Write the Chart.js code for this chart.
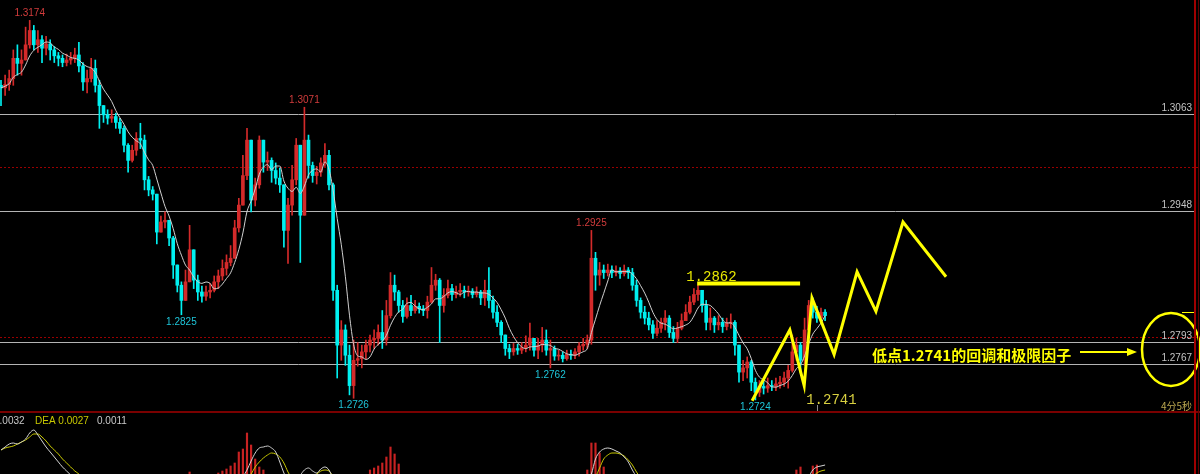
<!DOCTYPE html>
<html>
<head>
<meta charset="utf-8">
<script src="https://cdn.jsdelivr.net/npm/chart.js@4.4.0/dist/chart.umd.min.js"></script>
<style>
  html, body { margin: 0; padding: 0; background: #000; overflow: hidden; }
  #wrap { position: relative; width: 1200px; height: 474px; background: #000; }
  #main { position: absolute; left: 0; top: 0; }
  #macd { position: absolute; left: 0; top: 413px; }
  .sep { position: absolute; left: 0; top: 411px; width: 1200px; height: 2px; background: #7a0000; }
  .vline { position: absolute; top: 0; left: 1194px; width: 2px; height: 474px; background: #a00000; }
  .vline2 { position: absolute; top: 0; left: 1198px; width: 1px; height: 474px; background: #600000; }
</style>
</head>
<body>
<div id="wrap">
  <canvas id="main" width="1200" height="412"></canvas>
  <div class="sep"></div>
  <canvas id="macd" width="1200" height="61"></canvas>
  <div class="vline"></div>
  <div class="vline2"></div>
</div>
<script>
// price data, one candle per entry (open = previous close)
const firstOpen = 1.3097;
const closes = [
  1.3094,1.3098,1.3105,1.3129,1.3123,1.3127,1.3145,1.3162,1.3145,1.3151,
  1.3141,1.3146,1.3139,1.3132,1.3129,1.3124,1.3127,1.3129,1.3133,1.3120,
  1.3101,1.3105,1.3117,1.3097,1.3073,1.3062,1.3058,1.3060,1.3053,1.3046,
  1.3026,1.3008,1.3020,1.3034,1.3032,1.2985,1.2973,1.2968,1.2923,1.2935,
  1.2937,1.2916,1.2884,1.2860,1.2842,1.2864,1.2902,1.2866,1.2852,1.2847,
  1.2852,1.2854,1.2864,1.2871,1.2880,1.2887,1.2892,1.2928,1.2955,1.2990,
  1.3032,1.2961,1.2979,1.3032,1.3006,1.3008,1.2996,1.2987,1.2979,1.2925,
  1.2955,1.2985,1.3026,1.2943,1.3032,1.3002,1.2990,1.2994,1.3005,1.3014,
  1.2979,1.2854,1.2789,1.2807,1.2777,1.2741,1.2771,1.2773,1.2781,1.2789,
  1.2795,1.2797,1.2804,1.2795,1.2824,1.2860,1.2852,1.2836,1.2823,1.2836,
  1.2830,1.2835,1.2832,1.2830,1.2840,1.2860,1.2866,1.2836,1.2848,1.2856,
  1.2849,1.2852,1.2854,1.2852,1.2853,1.2849,1.2852,1.2845,1.2854,1.2842,
  1.2828,1.2816,1.2801,1.2785,1.2781,1.2785,1.2783,1.2786,1.2789,1.2797,
  1.2783,1.2789,1.2795,1.2783,1.2785,1.2776,1.2777,1.2773,1.2778,1.2777,
  1.2781,1.2788,1.2790,1.2795,1.2892,1.2872,1.2878,1.2875,1.2878,1.2875,
  1.2877,1.2874,1.2878,1.2875,1.2860,1.2842,1.2828,1.2821,1.2813,1.2803,
  1.2809,1.2816,1.2821,1.2804,1.2797,1.2809,1.2818,1.2828,1.2840,1.2849,
  1.2854,1.2836,1.2816,1.2821,1.2813,1.2816,1.2811,1.2815,1.2816,1.2789,
  1.2757,1.2762,1.2769,1.2745,1.2733,1.2740,1.2738,1.2741,1.2740,1.2743,
  1.2745,1.2750,1.2759,1.2781,1.2789,1.2771,1.2807,1.2836,1.2828,1.2821,
  1.2828,1.2824
];
const highs = [
  1.3103,1.3109,1.3115,1.3139,1.3145,1.3139,1.3166,1.3174,1.3168,1.3162,
  1.3156,1.3155,1.3151,1.3143,1.3136,1.3133,1.3134,1.3136,1.3141,1.3148,
  1.3124,1.3115,1.3129,1.3127,1.3103,1.3070,1.3068,1.3068,1.3064,1.3058,
  1.3049,1.3028,1.3026,1.3041,1.3052,1.3038,1.2989,1.2977,1.2937,1.2942,
  1.2947,1.2937,1.2918,1.2878,1.2864,1.2878,1.2931,1.2896,1.2872,1.2859,
  1.2859,1.2862,1.2871,1.2878,1.2890,1.2896,1.2907,1.2937,1.2963,1.3014,
  1.3046,1.3032,1.2987,1.3037,1.3032,1.3018,1.3011,1.3005,1.2999,1.2979,
  1.2963,1.3002,1.3034,1.3020,1.3071,1.3038,1.3006,1.3001,1.3011,1.3028,
  1.3020,1.2981,1.2860,1.2818,1.2813,1.2789,1.2795,1.2792,1.2789,1.2795,
  1.2801,1.2807,1.2813,1.2830,1.2842,1.2875,1.2872,1.2854,1.2842,1.2845,
  1.2848,1.2842,1.2839,1.2836,1.2847,1.2881,1.2873,1.2868,1.2856,1.2866,
  1.2861,1.2859,1.2862,1.2859,1.2859,1.2856,1.2858,1.2854,1.2866,1.2881,
  1.2847,1.2836,1.2818,1.2801,1.2790,1.2791,1.2790,1.2792,1.2800,1.2815,
  1.2797,1.2797,1.2810,1.2807,1.2795,1.2788,1.2783,1.2781,1.2783,1.2783,
  1.2785,1.2792,1.2797,1.2801,1.2925,1.2899,1.2887,1.2884,1.2885,1.2883,
  1.2883,1.2881,1.2884,1.2881,1.2880,1.2866,1.2845,1.2835,1.2828,1.2818,
  1.2818,1.2821,1.2830,1.2824,1.2811,1.2816,1.2826,1.2837,1.2847,1.2856,
  1.2860,1.2854,1.2842,1.2833,1.2823,1.2824,1.2821,1.2821,1.2826,1.2818,
  1.2789,1.2771,1.2775,1.2771,1.2750,1.2747,1.2747,1.2750,1.2747,1.2750,
  1.2752,1.2757,1.2765,1.2801,1.2797,1.2792,1.2821,1.2842,1.2845,1.2835,
  1.2833,1.2831
];
const lows = [
  1.3073,1.3085,1.3091,1.3097,1.3109,1.3109,1.3127,1.3141,1.3139,1.3136,
  1.3124,1.3133,1.3127,1.3124,1.3120,1.3119,1.3120,1.3122,1.3124,1.3113,
  1.3091,1.3088,1.3101,1.3089,1.3046,1.3053,1.3051,1.3053,1.3046,1.3040,
  1.3018,1.2994,1.3006,1.3014,1.3022,1.2973,1.2966,1.2961,1.2909,1.2925,
  1.2928,1.2907,1.2868,1.2852,1.2825,1.2842,1.2880,1.2856,1.2842,1.2840,
  1.2842,1.2845,1.2852,1.2856,1.2866,1.2872,1.2883,1.2902,1.2923,1.2955,
  1.2985,1.2947,1.2954,1.2975,1.2994,1.2996,1.2982,1.2980,1.2970,1.2905,
  1.2886,1.2943,1.2979,1.2887,1.2943,1.2987,1.2982,1.2980,1.2989,1.3001,
  1.2973,1.2842,1.2750,1.2771,1.2765,1.2730,1.2726,1.2764,1.2762,1.2773,
  1.2781,1.2785,1.2789,1.2785,1.2789,1.2821,1.2842,1.2828,1.2816,1.2821,
  1.2824,1.2827,1.2827,1.2824,1.2821,1.2839,1.2854,1.2792,1.2828,1.2845,
  1.2842,1.2845,1.2847,1.2845,1.2847,1.2845,1.2846,1.2837,1.2836,1.2833,
  1.2821,1.2811,1.2792,1.2777,1.2773,1.2777,1.2778,1.2779,1.2781,1.2783,
  1.2776,1.2773,1.2781,1.2777,1.2762,1.2771,1.2771,1.2769,1.2771,1.2772,
  1.2773,1.2776,1.2783,1.2785,1.2790,1.2854,1.2860,1.2868,1.2871,1.2869,
  1.2871,1.2868,1.2871,1.2868,1.2854,1.2835,1.2821,1.2814,1.2807,1.2797,
  1.2800,1.2804,1.2807,1.2798,1.2792,1.2792,1.2807,1.2818,1.2826,1.2837,
  1.2842,1.2828,1.2807,1.2807,1.2804,1.2807,1.2804,1.2807,1.2809,1.2777,
  1.2745,1.2747,1.2750,1.2735,1.2724,1.2728,1.2731,1.2733,1.2735,1.2735,
  1.2738,1.2740,1.2738,1.2757,1.2771,1.2756,1.2765,1.2807,1.2821,1.2816,
  1.2818,1.2818
];

// horizontal levels and marked extremes
const levels = [1.3063, 1.2948, 1.2793, 1.2767];
const dotLevels = [1.3000, 1.2799];
const peakIdx = [7, 74, 144];
const troughIdx = [44, 86, 134, 184];

// hand drawn projection
const zigIdx = [183.2, 192.4, 195.9, 197.8, 203.2, 208.8, 213.4, 220.0, 230.5];
const zigPrice = [1.2723, 1.2807, 1.2741, 1.2845, 1.2778, 1.2876, 1.2829, 1.2935, 1.2870];
const resistIdx = [169.8, 194.9];
const resistPrice = 1.2862;
const noteLow = 1.2741;

// MACD panel (only the visible top part)
const difSegs = [
  [[0,.0047],[1,.0050],[2,.0053],[3,.0054],[4,.0053],[5,.0055],[6,.0058],[7,.0064],[8,.0067],[9,.0062],[10,.0056],[11,.0050],[12,.0045],[13,.0040],[14,.0035],[15,.0030],[16,.0026],[17,.0022],[18,.0018]],
  [[59,.0020],[60,.0027],[61,.0036],[62,.0044],[63,.0049],[64,.0050],[65,.0051],[66,.0049],[67,.0045],[68,.0035],[69,.0024],[70,.0016]],
  [[72,.0018],[73,.0022],[74,.0027],[75,.0029],[76,.0026],[77,.0024],[78,.0028],[79,.0030],[80,.0027],[81,.0018]],
  [[143,.0015],[144,.0023],[145,.0038],[146,.0045],[147,.0048],[148,.0049],[149,.0048],[150,.0046],[151,.0044],[152,.0040],[153,.0035],[154,.0027],[155,.0020]],
  [[196,.0012],[197,.0020],[198,.0027],[199,.0030],[200,.0031],[201,.0032]]
];
const deaSegs = [
  [[0,.0047],[1,.0049],[2,.0050],[3,.0051],[4,.0053],[5,.0055],[6,.0057],[7,.0060],[8,.0063],[9,.0063],[10,.0060],[11,.0056],[12,.0051],[13,.0047],[14,.0043],[15,.0038],[16,.0034],[17,.0030],[18,.0026],[19,.0023],[20,.0019]],
  [[59,.0013],[60,.0018],[61,.0023],[62,.0030],[63,.0035],[64,.0039],[65,.0042],[66,.0044],[67,.0043],[68,.0040],[69,.0034],[70,.0025],[71,.0018]],
  [[75,.0019],[76,.0021],[77,.0023],[78,.0026],[79,.0027],[80,.0026],[81,.0021]],
  [[144,.0013],[145,.0020],[146,.0029],[147,.0038],[148,.0042],[149,.0044],[150,.0044],[151,.0043],[152,.0041],[153,.0037],[154,.0032],[155,.0025],[156,.0019]],
  [[197,.0014],[198,.0020],[199,.0024],[200,.0026],[201,.0027]]
];
const histPts = [
  [46,.0025],[53,.0024],[54,.0026],[55,.0028],[56,.0031],[57,.0034],[58,.0045],[59,.0048],[60,.0064],[61,.0052],[62,.0038],[63,.0030],[64,.0027],
  [90,.0027],[91,.0029],[92,.0031],[93,.0034],[94,.0040],[95,.0050],[96,.0043],[97,.0033],
  [143,.0027],[144,.0054],[145,.0054],[146,.0044],[147,.0030],
  [194,.0027],[195,.0030],[198,.0031],[199,.0032]
];
const macdText = ['0.0032', 'DEA 0.0027', '0.0011'];

// visible ranges
const xMin = -0.244, xMax = 292.44;
const yMin = 1.270971, yMax = 1.319815;

const opens = closes.map((c, i) => i === 0 ? firstOpen : closes[i - 1]);
const upColor = '#d42a2a', downColor = '#00f0f0';
const candleColors = closes.map((c, i) => c > opens[i] ? upColor : downColor);

// moving average of the closes
const maLen = 6;
const ma = closes.map((c, i) => {
  const s = closes.slice(Math.max(0, i - maLen + 1), i + 1);
  return s.reduce((a, b) => a + b, 0) / s.length;
});

function hline(ctx, x1, x2, y) {
  ctx.beginPath(); ctx.moveTo(x1, y); ctx.lineTo(x2, y); ctx.stroke();
}

const overlay = {
  id: 'overlay',
  beforeDatasetsDraw(chart) {
    const { ctx, chartArea: a, scales: { y } } = chart;
    ctx.save();
    ctx.lineWidth = 1;
    ctx.strokeStyle = '#9a0000';
    ctx.setLineDash([2, 2]);
    dotLevels.forEach(v => hline(ctx, a.left, a.right, Math.round(y.getPixelForValue(v)) + 0.5));
    ctx.setLineDash([]);
    ctx.strokeStyle = '#b4b4b4';
    levels.forEach(v => hline(ctx, a.left, 1194, Math.round(y.getPixelForValue(v)) + 0.5));
    ctx.restore();
  },
  afterDatasetsDraw(chart) {
    const { ctx, scales: { x, y } } = chart;
    ctx.save();
    ctx.font = '10px "Liberation Sans"';
    ctx.fillStyle = '#c4c4c4';
    ctx.textAlign = 'right';
    ctx.textBaseline = 'bottom';
    levels.forEach(v => ctx.fillText(v.toFixed(4), 1192, Math.round(y.getPixelForValue(v)) - 1));

    ctx.textAlign = 'center';
    ctx.fillStyle = '#d23c3c';
    peakIdx.forEach(i => ctx.fillText(highs[i].toFixed(4), x.getPixelForValue(i), y.getPixelForValue(highs[i]) - 2));
    ctx.textBaseline = 'top';
    ctx.fillStyle = '#1ec4d8';
    troughIdx.forEach(i => ctx.fillText(lows[i].toFixed(4), x.getPixelForValue(i), y.getPixelForValue(lows[i]) + 2));

    // yellow notes
    const rx = x.getPixelForValue(resistIdx[0]);
    const ry = y.getPixelForValue(resistPrice);
    ctx.font = '14px "Liberation Mono"';
    ctx.textAlign = 'left';
    ctx.textBaseline = 'alphabetic';
    ctx.fillStyle = '#e8e800';
    ctx.fillText(resistPrice.toFixed(4), rx - 11, ry - 3);
    const lx = x.getPixelForValue(zigIdx[2]);
    const ly = y.getPixelForValue(noteLow);
    ctx.fillStyle = '#d8d040';
    ctx.fillText(noteLow.toFixed(4), lx + 2, ly + 18);

    ctx.font = 'bold 15px "Noto Sans CJK SC"';
    ctx.fillStyle = '#ffff00';
    ctx.textBaseline = 'middle';
    ctx.fillText('低点1.2741的回调和极限因子', 872, 355);

    ctx.strokeStyle = '#ffff00';
    ctx.lineWidth = 2;
    hline(ctx, 1080, 1128, 352);
    ctx.beginPath();
    ctx.moveTo(1137, 352); ctx.lineTo(1127, 348); ctx.lineTo(1127, 356); ctx.closePath();
    ctx.fillStyle = '#ffff00';
    ctx.fill();
    ctx.lineWidth = 2.5;
    ctx.beginPath();
    ctx.ellipse(1171, 349.5, 29, 36.5, 0, 0, Math.PI * 2);
    ctx.stroke();
    ctx.lineWidth = 1;
    hline(ctx, 1182, 1194, 312.5);

    ctx.strokeStyle = '#8c8c8c';
    ctx.beginPath(); ctx.moveTo(817.5, 405); ctx.lineTo(817.5, 412); ctx.stroke();

    ctx.font = '10px "Noto Sans CJK SC"';
    ctx.fillStyle = '#bca850';
    ctx.textAlign = 'right';
    ctx.textBaseline = 'bottom';
    ctx.fillText('4分5秒', 1192, 411);
    ctx.restore();
  }
};

new Chart(document.getElementById('main'), {
  type: 'bar',
  data: {
    datasets: [
      {
        type: 'line',
        data: zigIdx.map((v, i) => ({ x: v, y: zigPrice[i] })),
        borderColor: '#ffff00', borderWidth: 3, pointRadius: 0, order: 1
      },
      {
        type: 'line',
        data: resistIdx.map(v => ({ x: v, y: resistPrice })),
        borderColor: '#ffff00', borderWidth: 4, pointRadius: 0, order: 2
      },
      {
        type: 'line',
        data: ma.map((v, i) => ({ x: i, y: v })),
        borderColor: '#d0d0d0', borderWidth: 1, pointRadius: 0,
        cubicInterpolationMode: 'monotone', order: 3
      },
      {
        type: 'bar',
        data: closes.map((c, i) => ({ x: i, y: [opens[i], c] })),
        backgroundColor: candleColors, barThickness: 3, minBarLength: 1,
        grouped: false, order: 4
      },
      {
        type: 'bar',
        data: closes.map((c, i) => ({ x: i, y: [Math.min(lows[i], opens[i], c), Math.max(highs[i], opens[i], c)] })),
        backgroundColor: candleColors, barThickness: 1, grouped: false, order: 5
      }
    ]
  },
  options: {
    responsive: false,
    animation: false,
    events: [],
    layout: { padding: 0 },
    plugins: { legend: { display: false }, tooltip: { enabled: false } },
    scales: {
      x: { type: 'linear', min: xMin, max: xMax, offset: false, display: false },
      y: { type: 'linear', min: yMin, max: yMax, beginAtZero: false, display: false }
    }
  },
  plugins: [overlay]
});

const macdLabels = {
  id: 'macdLabels',
  afterDatasetsDraw(chart) {
    const ctx = chart.ctx;
    ctx.save();
    ctx.font = '10px "Liberation Sans"';
    ctx.textBaseline = 'top';
    ctx.fillStyle = '#c8c8c8';
    ctx.fillText(macdText[0], -6, 3);
    ctx.fillStyle = '#c8c800';
    ctx.fillText(macdText[1], 35, 3);
    ctx.fillStyle = '#c8c8c8';
    ctx.fillText(macdText[2], 97, 3);
    ctx.restore();
  }
};

const macdSets = [];
difSegs.forEach(seg => macdSets.push({
  type: 'line', data: seg.map(p => ({ x: p[0], y: p[1] })),
  borderColor: '#d4d4d4', borderWidth: 1, pointRadius: 0, cubicInterpolationMode: 'monotone', order: 1
}));
deaSegs.forEach(seg => macdSets.push({
  type: 'line', data: seg.map(p => ({ x: p[0], y: p[1] })),
  borderColor: '#c8c800', borderWidth: 1, pointRadius: 0, cubicInterpolationMode: 'monotone', order: 2
}));
macdSets.push({
  type: 'bar', data: histPts.map(p => ({ x: p[0], y: p[1] })),
  backgroundColor: '#c82222', barThickness: 1.5, grouped: false, order: 3
});

new Chart(document.getElementById('macd'), {
  type: 'bar',
  data: { datasets: macdSets },
  options: {
    responsive: false,
    animation: false,
    events: [],
    layout: { padding: 0 },
    plugins: { legend: { display: false }, tooltip: { enabled: false } },
    scales: {
      x: { type: 'linear', min: xMin, max: xMax, offset: false, display: false },
      y: { type: 'linear', min: 0.0023, max: 0.0084, beginAtZero: false, display: false }
    }
  },
  plugins: [macdLabels]
});
</script>
</body>
</html>
